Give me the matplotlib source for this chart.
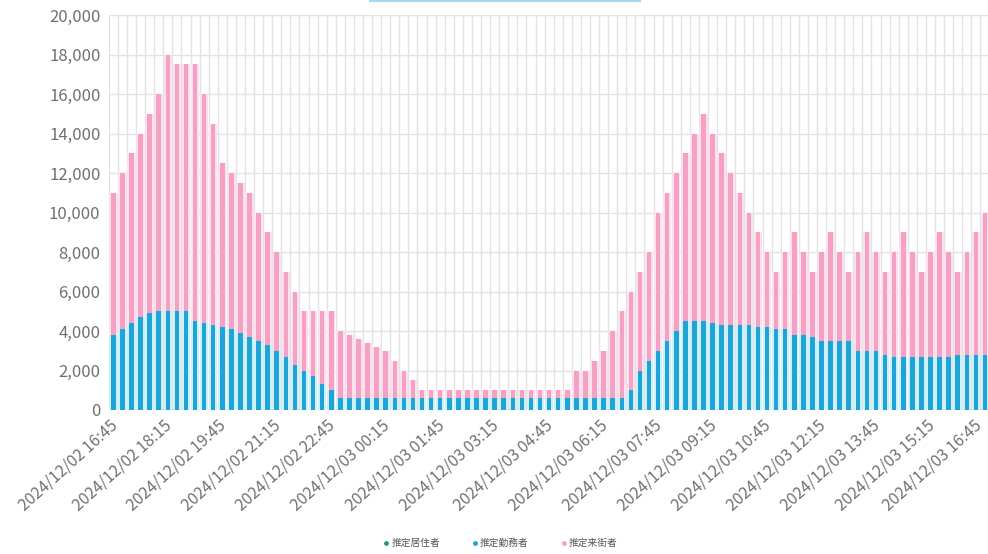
import matplotlib
matplotlib.use("Agg")
import matplotlib.pyplot as plt
from matplotlib.lines import Line2D
from matplotlib.ticker import FuncFormatter, NullLocator
from matplotlib.transforms import ScaledTranslation
import numpy as np
from datetime import datetime, timedelta

plt.rcParams['font.family'] = ['Noto Sans CJK JP', 'DejaVu Sans']

# ---- data ----
start = datetime(2024, 12, 2, 16, 45)
times = [(start + timedelta(minutes=15 * i)).strftime('%Y/%m/%d %H:%M') for i in range(97)]
tick_every = 6

series_names = ['推定居住者', '推定勤務者', '推定来街者']

residents = [0] * 97

workers = ([3800, 4100, 4400, 4700, 4900, 5000, 5000, 5000, 5000, 4500,
            4400, 4300, 4200, 4100, 3900, 3700, 3500, 3300, 3000, 2700,
            2300, 2000, 1700, 1300, 1000]
           + [600] * 32
           + [1000, 2000, 2500, 3000, 3500, 4000, 4500, 4500, 4500, 4400,
              4300, 4300, 4300, 4300, 4200, 4200, 4100, 4100, 3800, 3800,
              3700, 3500, 3500, 3500, 3500, 3000, 3000, 3000, 2800]
           + [2700] * 7
           + [2800] * 4)

visitors = ([7200, 7900, 8600, 9300, 10100, 11000, 13000, 12500, 12500, 13000,
             11600, 10200, 8300, 7900, 7600, 7300, 6500, 5700, 5000, 4300,
             3700, 3000, 3300, 3700, 4000, 3400, 3200, 3000, 2800, 2600,
             2400, 1900, 1400, 900]
            + [400] * 17
            + [1400, 1400, 1900, 2400, 3400, 4400, 5000, 5000, 5500, 7000,
               7500, 8000, 8500, 9500, 10500, 9600, 8700, 7700, 6700, 5700,
               4800, 3800, 2900, 3900, 5200, 4200, 3300, 4500, 5500, 4500,
               3500, 5000, 6000, 5000, 4200, 5300, 6300, 5300, 4300, 5300,
               6300, 5300, 4200, 5200, 6200, 7200])

colors = ['#2e9b6b', '#1ea5d6', '#f5a1c6']
light_colors = ['#bfe8d6', '#cdf0fb', '#fde2ee']

# ---- figure ----
fig = plt.figure(figsize=(9.88, 5.54), dpi=100)
ax = fig.add_axes([108.8 / 988, 144 / 554, (989.5 - 108.8) / 988, 395 / 554])

x = np.arange(len(times))
bottom = np.zeros(len(times))
for vals, c, lc in zip([residents, workers, visitors], colors, light_colors):
    v = np.array(vals, dtype=float)
    ax.bar(x, v, width=0.92, bottom=bottom, color=lc, linewidth=0, zorder=2)
    ax.bar(x, v, width=0.5, bottom=bottom, color=c, linewidth=0, zorder=3)
    bottom += v

ax.set_xlim(-0.5, len(times) - 0.5)
ax.set_ylim(0, 20000)
ax.set_yticks(np.arange(0, 20001, 2000))
ax.yaxis.set_major_formatter(FuncFormatter(lambda v, p: f'{int(v):,}'))

# x labels as rotated texts at each 6th category
ax.xaxis.set_major_locator(NullLocator())
ax.set_xticks(np.arange(-0.5, len(times), 1), minor=True)
ax.xaxis.set_minor_formatter(FuncFormatter(lambda v, p: ''))
label_idx = list(x[::tick_every])
for xi in label_idx:
    dx = -11 if xi == label_idx[-1] else -4
    tr = ax.get_xaxis_transform() + ScaledTranslation(dx / 100, -7 / 100, fig.dpi_scale_trans)
    ax.text(xi, 0, times[xi], transform=tr, rotation=42, ha='right', va='top',
            rotation_mode='anchor', fontsize=11.5, color='#707070')

ax.tick_params(axis='y', length=0, pad=6, labelsize=12, labelcolor='#707070')
ax.tick_params(axis='x', which='both', length=0)

ax.set_axisbelow(True)
ax.grid(axis='y', which='major', color='#e3e3e3', linewidth=1)
ax.grid(axis='x', which='minor', color='#e3e3e3', linewidth=1)
for s in ax.spines.values():
    s.set_visible(False)

handles = [Line2D([0], [0], marker='o', linestyle='none', markersize=3.5,
                  markerfacecolor=c, markeredgewidth=0) for c in colors]
fig.legend(handles, series_names, loc='center', bbox_to_anchor=(0.506, 0.02),
           ncol=3, frameon=False, fontsize=7, handletextpad=0.1,
           columnspacing=3.2, handlelength=0.8, labelcolor='#555555')

fig.add_artist(Line2D([370 / 988, 640 / 988], [553.5 / 554, 553.5 / 554],
                      color='#a9d8f2', linewidth=1.5))

fig.savefig('out.png', dpi=100)
